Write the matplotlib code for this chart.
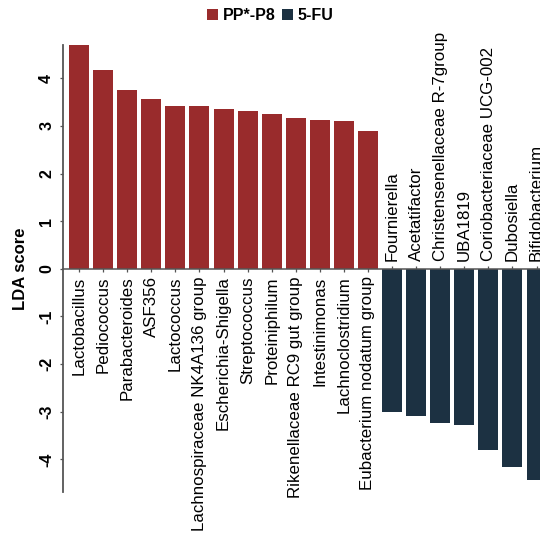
import matplotlib
matplotlib.use("Agg")
import matplotlib.pyplot as plt
from matplotlib.patches import Patch

plt.rcParams['font.family'] = ['Liberation Sans', 'DejaVu Sans']

# LEfSe results: genera enriched in each group with their LDA scores
pp_taxa = ["Lactobacillus", "Pediococcus", "Parabacteroides", "ASF356", "Lactococcus",
           "Lachnospiraceae NK4A136 group", "Escherichia-Shigella", "Streptococcus",
           "Proteiniphilum", "Rikenellaceae RC9 gut group", "Intestinimonas",
           "Lachnoclostridium", "Eubacterium nodatum group"]
pp_lda = [4.70, 4.18, 3.76, 3.57, 3.42, 3.42, 3.35, 3.31, 3.24, 3.17, 3.13, 3.11, 2.90]

fu_taxa = ["Fournierella", "Acetatifactor", "Christensenellaceae R-7group", "UBA1819",
           "Coriobacteriaceae UCG-002", "Dubosiella", "Bifidobacterium"]
fu_lda = [-3.00, -3.10, -3.23, -3.27, -3.80, -4.17, -4.43]

group_names = ["PP*-P8", "5-FU"]
group_colors = ["#992B2C", "#1C3142"]

taxa = pp_taxa + fu_taxa
scores = pp_lda + fu_lda
colors = [group_colors[0]] * len(pp_taxa) + [group_colors[1]] * len(fu_taxa)
xs = list(range(len(taxa)))

fig = plt.figure(figsize=(5.40, 5.38), dpi=100)
ax = fig.add_axes([0.117, 0.086, 0.906, 0.8305])

ax.bar(xs, scores, width=0.83, color=colors, zorder=2)

ax.set_xlim(-0.66, len(taxa) - 0.34)
ax.set_ylim(-4.68, 4.70)

for side in ("top", "right"):
    ax.spines[side].set_visible(False)
ax.spines["bottom"].set_position(("data", 0))
ax.spines["bottom"].set_color("#555555")
ax.spines["bottom"].set_linewidth(1.1)
ax.spines["left"].set_color("#555555")
ax.spines["left"].set_linewidth(1.3)
ax.set_axisbelow(True)

ax.set_xticks(xs)
ax.set_xticklabels([])
ax.tick_params(axis="x", direction="inout", length=5, width=0.9, color="#555555")

ax.set_yticks(range(-4, 5))
ax.set_yticklabels([str(v) for v in range(-4, 5)], rotation=90, va="center",
                   fontsize=11.5, fontweight="bold")
ax.tick_params(axis="y", direction="out", length=2.5, width=0.9, color="#555555", pad=4)
ax.set_ylabel("LDA score", fontsize=12, fontweight="bold", labelpad=8)

# taxon names sit on the opposite side of the zero line from their bar
for x, name, s in zip(xs, taxa, scores):
    if s >= 0:
        ax.annotate(name, (x, 0), xytext=(0, -5.5), textcoords="offset points",
                    rotation=90, ha="center", va="top", fontsize=12.2)
    else:
        ax.annotate(name, (x, 0), xytext=(0, 5.5), textcoords="offset points",
                    rotation=90, ha="center", va="bottom", fontsize=12.2)

handles = [Patch(facecolor=c, edgecolor="none", label=n) for n, c in zip(group_names, group_colors)]
fig.legend(handles=handles, loc="upper center", bbox_to_anchor=(0.5, 1.012), ncol=2,
           frameon=False, handlelength=0.7, handleheight=0.7, handletextpad=0.3,
           columnspacing=0.4, prop={"weight": "bold", "size": 11.5})

fig.savefig("out.png", dpi=100)
